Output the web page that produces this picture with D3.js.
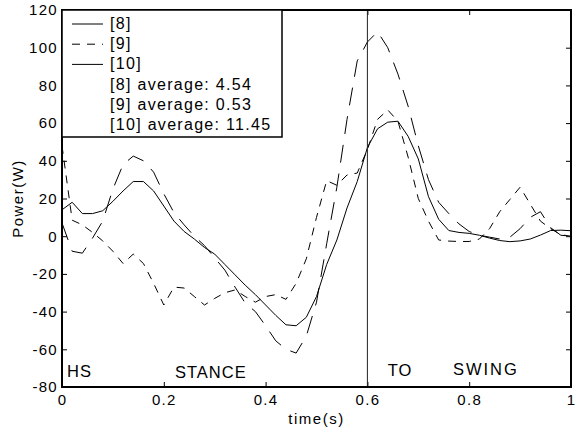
<!DOCTYPE html>
<html><head><meta charset="utf-8">
<script src="https://cdn.jsdelivr.net/npm/d3@7"></script>
<style>
body{margin:0;background:#fff}
text{font-family:"Liberation Sans",Arial,Helvetica,sans-serif;fill:#000}
</style>
</head><body><svg id="c" width="576" height="428"></svg>
<script>
// ---- data ----
const times = [0,0.02,0.04,0.06,0.08,0.10,0.12,0.14,0.16,0.18,0.20,0.22,0.24,0.26,0.28,0.30,0.32,0.34,0.36,0.38,0.40,0.42,0.44,0.46,0.48,0.50,0.52,0.54,0.56,0.58,0.60,0.62,0.64,0.66,0.68,0.70,0.72,0.74,0.76,0.78,0.80,0.82,0.84,0.86,0.88,0.90,0.92,0.94,0.96,0.98,1.00];
const power8 = [14,18,12,12,13.5,18.5,24,29,29,24,16,8,2.5,-1.5,-6,-9.5,-15,-20.5,-26,-31,-36.5,-42,-47,-47.5,-43,-32,-15,-2,15,29,47,57,60.5,61,53,41,21,9,3,2,1.5,0.5,-1,-2.3,-2.9,-2.5,-1.5,0.6,3,3.2,2.9];
const power9 = [48,8.5,6,2,-2.5,-8,-14.5,-9.5,-14.5,-25,-36.5,-27,-27.5,-32,-36.5,-33,-30,-28.5,-32,-35,-32,-31,-33.5,-25,-12,10,29.5,27,32.5,33.5,46,62,67,61,42,20,8,-2,-2.6,-2.8,-2.8,-1.5,4,13,19.5,26,17,8,4,0.8,0];
const power10 = [7,-8,-9,-1,8,25,38,42.5,40,34,22.5,12.5,6,0,-5,-11.5,-18,-27,-35.5,-40,-47.5,-55.5,-60,-62,-53,-35,-4,26,62,93,103,108.5,100,86,69,48,30,18,12,6.5,2.5,0.5,-0.5,-1.5,-0.5,4,10,13,4.5,0.5,0];
const seriesNames = ["[8]","[9]","[10]"];
const averageLabels = ["[8] average: 4.54","[9] average: 0.53","[10] average: 11.45"];
const xTicks = [0,0.2,0.4,0.6,0.8,1];
const xTickLabels = ["0","0.2","0.4","0.6","0.8","1"];
const yTicks = [-80,-60,-40,-20,0,20,40,60,80,100,120];
const yTickLabels = ["-80","-60","-40","-20","0","20","40","60","80","100","120"];
const phaseNames = ["HS","STANCE","TO","SWING"];
const toeOffTime = 0.6;

// ---- layout ----
const L = 62, R = 571, T = 10, B = 387;
const svg = d3.select("#c");
const x = d3.scaleLinear().domain([0,1]).range([L,R]);
const y = d3.scaleLinear().domain([-80,120]).range([B,T]);

svg.append("defs").append("clipPath").attr("id","clip")
  .append("rect").attr("x",L).attr("y",T).attr("width",R-L).attr("height",B-T);

// axes (inward ticks on all four sides)
const tickFont = g => g.selectAll("text").style("font-size","15px").style("letter-spacing","1.3px");
svg.append("g").attr("transform",`translate(0,${B})`)
  .call(d3.axisBottom(x).tickValues(xTicks).tickFormat((d,i)=>xTickLabels[i]).tickSizeInner(-5).tickSizeOuter(0).tickPadding(7))
  .call(g=>g.select(".domain").remove()).call(tickFont);
svg.append("g").attr("transform",`translate(0,${T})`)
  .call(d3.axisTop(x).tickValues(xTicks).tickFormat("").tickSizeInner(-5).tickSizeOuter(0))
  .call(g=>g.select(".domain").remove());
svg.append("g").attr("transform",`translate(${L},0)`)
  .call(d3.axisLeft(y).tickValues(yTicks).tickFormat((d,i)=>yTickLabels[i]).tickSizeInner(-5).tickSizeOuter(0).tickPadding(4))
  .call(g=>g.select(".domain").remove()).call(tickFont);
svg.append("g").attr("transform",`translate(${R},0)`)
  .call(d3.axisRight(y).tickValues(yTicks).tickFormat("").tickSizeInner(-5).tickSizeOuter(0))
  .call(g=>g.select(".domain").remove());
svg.selectAll(".tick line").attr("stroke","#000");
svg.selectAll(".tick text").attr("fill","#000").style("font-family",'"Liberation Sans",Arial,sans-serif');

// data lines
const line = d3.line().x((d,i)=>x(times[i])).y(d=>y(d));
const plot = svg.append("g").attr("clip-path","url(#clip)");
const dashes = [null,"8,7","18,11"];
[power8,power9,power10].forEach((s,k)=>{
  plot.append("path").datum(s).attr("d",line).attr("fill","none")
    .attr("stroke","#000").attr("stroke-width",1)
    .attr("stroke-dasharray",dashes[k]);
});

// toe-off marker
plot.append("line").attr("x1",x(toeOffTime)).attr("x2",x(toeOffTime))
  .attr("y1",T).attr("y2",B).attr("stroke","#222").attr("stroke-width",1);

// phase labels
const phaseStyle = t => t.style("font-size","16.5px").style("letter-spacing","1px");
svg.append("text").attr("x",x(0.01)).attr("y",y(-74.5)).text(phaseNames[0]).call(phaseStyle);
svg.append("text").attr("x",x(0.222)).attr("y",y(-75)).text(phaseNames[1]).call(phaseStyle);
svg.append("text").attr("x",x(0.64)).attr("y",y(-74)).text(phaseNames[2]).call(phaseStyle);
svg.append("text").attr("x",x(0.768)).attr("y",y(-73.8)).text(phaseNames[3]).call(phaseStyle).style("letter-spacing","2px");

// frame
svg.append("rect").attr("x",L).attr("y",T).attr("width",R-L).attr("height",B-T)
  .attr("fill","none").attr("stroke","#000").attr("stroke-width",2);

// axis titles
svg.append("text").attr("x",(L+R)/2).attr("y",424).attr("text-anchor","middle")
  .style("font-size","15px").style("letter-spacing","1.5px").text("time(s)");
svg.append("text").attr("transform",`translate(23,${(T+B)/2}) rotate(-90)`).attr("text-anchor","middle")
  .style("font-size","15px").style("letter-spacing","1.5px").text("Power(W)");

// legend
const lg = svg.append("g");
lg.append("rect").attr("x",L).attr("y",T).attr("width",220).attr("height",127)
  .attr("fill","#fff").attr("stroke","#000").attr("stroke-width",1.5);
const legendDash = [null,"8,7","31,10"];
const rowY = i => 23.5 + i*20.2;
seriesNames.forEach((n,i)=>{
  lg.append("line").attr("x1",72).attr("x2",103).attr("y1",rowY(i)+0.5).attr("y2",rowY(i)+0.5)
    .attr("stroke","#000").attr("stroke-width",1).attr("stroke-dasharray",legendDash[i]);
  lg.append("text").attr("x",110).attr("y",rowY(i)+5.5).style("font-size","16px").style("letter-spacing","1.3px").text(n);
});
averageLabels.forEach((n,i)=>{
  lg.append("text").attr("x",110).attr("y",rowY(i+3)+5.5).style("font-size","16px").style("letter-spacing","1.3px").text(n);
});
</script>
</body></html>
